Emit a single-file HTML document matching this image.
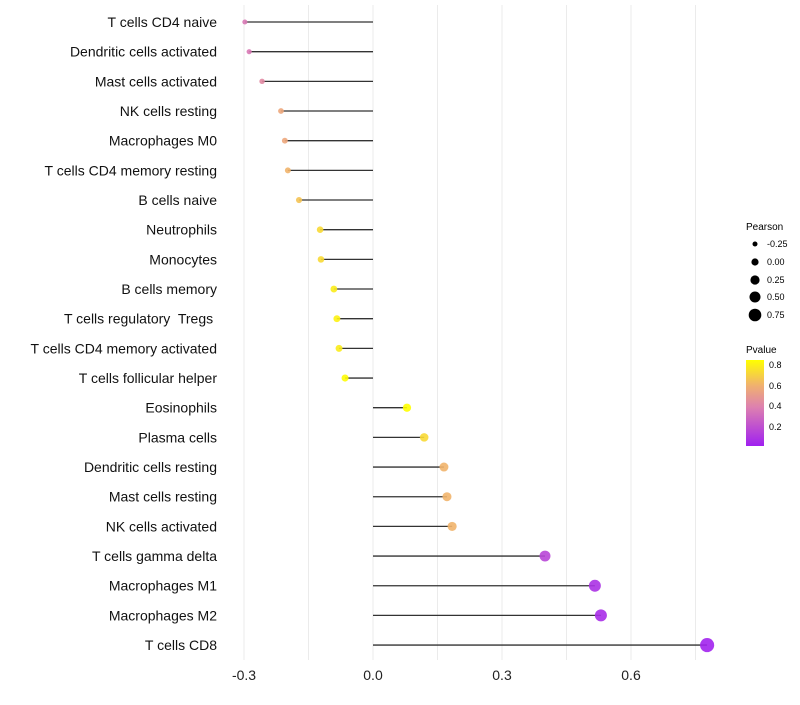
<!DOCTYPE html>
<html><head><meta charset="utf-8"><style>
body{margin:0;background:#fff;font-family:"Liberation Sans",sans-serif;}
text{white-space:pre;}
</style></head><body>
<svg id="chart" width="800" height="700" xmlns="http://www.w3.org/2000/svg">
<defs><linearGradient id="pg" x1="0" y1="1" x2="0" y2="0">
<stop offset="0" stop-color="#a020f0"/><stop offset="0.45" stop-color="#dd80b0"/><stop offset="0.7" stop-color="#f0b070"/><stop offset="1" stop-color="#ffff00"/></linearGradient></defs>
<g id="grid"></g><g id="marks"></g><g id="labels"></g>
<g font-size="9">
<text x="746" y="230" font-size="10">Pearson</text>
<circle cx="755" cy="244" r="2.5"/><text x="767" y="247">-0.25</text>
<circle cx="755" cy="262" r="3.6"/><text x="767" y="265">0.00</text>
<circle cx="755" cy="280" r="4.6"/><text x="767" y="283">0.25</text>
<circle cx="755" cy="297" r="5.5"/><text x="767" y="300">0.50</text>
<circle cx="755" cy="315" r="6.3"/><text x="767" y="318">0.75</text>
</g>
<g font-size="9">
<text x="746" y="353" font-size="10">Pvalue</text>
<rect x="746" y="360" width="18" height="86" fill="url(#pg)"/>
<text x="769" y="368">0.8</text><text x="769" y="389">0.6</text><text x="769" y="409">0.4</text><text x="769" y="430">0.2</text>
</g>
</svg>
<script>
const categories=["T cells CD4 naive","Dendritic cells activated","Mast cells activated","NK cells resting","Macrophages M0","T cells CD4 memory resting","B cells naive","Neutrophils","Monocytes","B cells memory","T cells regulatory  Tregs ","T cells CD4 memory activated","T cells follicular helper","Eosinophils","Plasma cells","Dendritic cells resting","Mast cells resting","NK cells activated","T cells gamma delta","Macrophages M1","Macrophages M2","T cells CD8"];
const pearson=[-0.298,-0.288,-0.258,-0.214,-0.205,-0.198,-0.172,-0.123,-0.121,-0.091,-0.084,-0.079,-0.065,0.079,0.119,0.165,0.172,0.184,0.40,0.516,0.530,0.777];
const pvalue=[0.35,0.35,0.42,0.55,0.55,0.6,0.65,0.72,0.72,0.78,0.8,0.78,0.83,0.84,0.72,0.6,0.6,0.6,0.15,0.07,0.05,0.01];
const xTicks=[-0.3,0,0.3,0.6];
const xTickLabels=["-0.3","0.0","0.3","0.6"];
const NS="http://www.w3.org/2000/svg";
const x=v=>373+v*430;
const y=i=>22+i*29.67;
const r=v=>3.8+v*4.2;
function col(p){const t=Math.max(0,Math.min(1,p/0.84));
const st=[[0,[160,32,240]],[0.45,[221,128,176]],[0.7,[240,176,112]],[1,[255,255,0]]];
for(let k=1;k<st.length;k++){if(t<=st[k][0]){const a=st[k-1],b=st[k],f=(t-a[0])/(b[0]-a[0]);
return "rgb("+a[1].map((c,j)=>Math.round(c+(b[1][j]-c)*f)).join(",")+")";}}return "rgb(255,255,0)";}
function mk(tag,at,parent){const e=document.createElementNS(NS,tag);for(const k in at)e.setAttribute(k,at[k]);document.getElementById(parent).appendChild(e);return e;}
[-0.3,-0.15,0,0.15,0.3,0.45,0.6,0.75].forEach(v=>{const g=mk("line",{x1:x(v),x2:x(v),y1:5,y2:660,stroke:"#ebebeb","stroke-width":1},"grid");

});
xTicks.forEach((v,i)=>{const t=mk("text",{x:x(v),y:680,"text-anchor":"middle","font-size":14,fill:"#222"},"labels");t.textContent=xTickLabels[i];

});
categories.forEach((c,i)=>{const t=mk("text",{x:217,y:y(i)+5,"text-anchor":"end","font-size":14,fill:"#111"},"labels");t.textContent=c;


const l=mk("line",{x1:x(0),x2:x(pearson[i]),y1:y(i),y2:y(i),stroke:"#333","stroke-width":1.3},"marks");


const d=mk("circle",{cx:x(pearson[i]),cy:y(i),r:r(pearson[i]),fill:col(pvalue[i]),"fill-opacity":0.9},"marks");

});
</script>
</body></html>
